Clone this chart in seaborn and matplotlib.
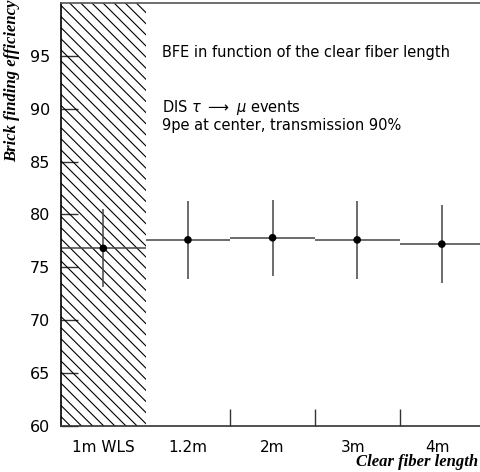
"""
Brick finding efficiency vs clear fiber length.
"""
import numpy as np
import matplotlib
matplotlib.use("Agg")
import matplotlib.pyplot as plt
import seaborn as sns
import pandas as pd

# data
labels = ["1m WLS", "1.2m", "2m", "3m", "4m"]
efficiency = [76.8, 77.6, 77.8, 77.6, 77.2]
eff_err = [3.7, 3.7, 3.6, 3.7, 3.7]
y_ticks = [60, 65, 70, 75, 80, 85, 90, 95]

df = pd.DataFrame({"bin": np.arange(len(labels)), "eff": efficiency, "err": eff_err})

sns.set_style("ticks")
plt.rcParams["font.family"] = ["DejaVu Sans"]
plt.rcParams["text.color"] = "black"
plt.rcParams["ytick.color"] = "black"
plt.rcParams["hatch.linewidth"] = 0.8

fig = plt.figure(figsize=(4.8, 4.72), dpi=100)
ax = fig.add_axes([61 / 480, 46 / 472, 424 / 480, 423 / 472])

# hatched region over the WLS bin
ax.bar(0, 40, width=1, bottom=60, color="none", edgecolor="black",
       hatch="\\\\\\", linewidth=0, zorder=1)

# bin-wide horizontal bars with vertical error bars
ax.errorbar(df["bin"], df["eff"], xerr=0.5, yerr=df["err"], fmt="none",
            ecolor="#444444", elinewidth=1.1, capsize=0, zorder=2)
sns.scatterplot(data=df, x="bin", y="eff", ax=ax, color="black", s=30,
                edgecolor="none", zorder=3, legend=False)

ax.set_xlim(-0.5, 4.51)
ax.set_ylim(60, 100)
ax.set_yticks(y_ticks)
ax.set_yticklabels([str(v) for v in y_ticks], fontsize=11.5)
ax.set_xticks([1.5, 2.5, 3.5])
ax.set_xticklabels([])
ax.tick_params(axis="both", direction="in", length=12, width=1, color="#333333")
ax.tick_params(axis="y", pad=8)
ax.set_xlabel("")
ax.set_ylabel("")
for i, lab in enumerate(labels):
    dx = -0.05 if i >= 3 else 0
    ax.text(i + dx, -0.05, lab, transform=ax.get_xaxis_transform(),
            ha="center", va="center", fontsize=11)

for s in ax.spines.values():
    s.set_linewidth(1.2)
ax.spines["left"].set_color("black")
ax.spines["bottom"].set_color("#333333")
ax.spines["top"].set_color("#555555")

ax.text(0.69, 95.3, "BFE in function of the clear fiber length", fontsize=10.5,
        va="center")
ax.text(0.69, 90.1, r"DIS $\tau$ $\longrightarrow$ $\mu$ events", fontsize=10.5,
        va="center")
ax.text(0.69, 88.4, "9pe at center, transmission 90%", fontsize=10.5,
        va="center")

fig.text(12 / 480, 1.0, "Brick finding efficiency", rotation=90, ha="center",
         va="top", family=["Liberation Serif"], style="italic", weight="bold",
         fontsize=12)
fig.text(478 / 480, 10 / 472, "Clear fiber length", ha="right", va="center",
         family=["Liberation Serif"], style="italic", weight="bold", fontsize=12)

fig.savefig("out.png", dpi=100)
